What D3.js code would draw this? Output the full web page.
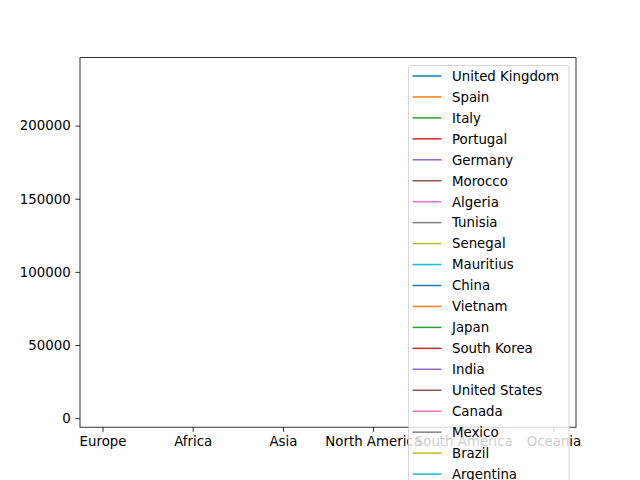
<!DOCTYPE html>
<html>
<head>
<meta charset="utf-8">
<script src="https://cdn.jsdelivr.net/npm/d3@7/dist/d3.min.js"></script>
<style>
  html, body { margin: 0; padding: 0; background: #fff; overflow: hidden; }
  svg { display: block; font-family: "DejaVu Sans", sans-serif; }
</style>
</head>
<body>
<svg id="chart" width="640" height="480"></svg>
<script>
// continents on the x axis
const continents = ["Europe", "Africa", "Asia", "North America", "South America", "Oceania"];
// one series per country, each with a single value at its continent
const countries = ["United Kingdom", "Spain", "Italy", "Portugal", "Germany",
    "Morocco", "Algeria", "Tunisia", "Senegal", "Mauritius",
    "China", "Vietnam", "Japan", "South Korea", "India",
    "United States", "Canada", "Mexico", "Brazil", "Argentina"];
const countryContinent = ["Europe", "Europe", "Europe", "Europe", "Europe",
    "Africa", "Africa", "Africa", "Africa", "Africa",
    "Asia", "Asia", "Asia", "Asia", "Asia",
    "North America", "North America", "North America", "South America", "South America"];
const countryValues = [67000, 47000, 59000, 10300, 83000,
    37000, 44000, 11800, 16900, 5300,
    141000, 97000, 126000, 51700, 140000,
    235000, 38000, 128000, 213000, 45000];
const yTicks = [0, 50000, 100000, 150000, 200000];

const palette = ["#1f77b4", "#ff7f0e", "#2ca02c", "#d62728", "#9467bd",
    "#8c564b", "#e377c2", "#7f7f7f", "#bcbd22", "#17becf"];

const svg = d3.select("#chart");
const margin = { left: 80, right: 576, top: 57.6, bottom: 427.2 };

const x = d3.scalePoint()
    .domain(continents)
    .range([margin.left, margin.right])
    .padding(0.25);

const [lo, hi] = d3.extent(countryValues);
const pad = (hi - lo) * 0.05;
const y = d3.scaleLinear()
    .domain([lo - pad, hi + pad])
    .range([margin.bottom, margin.top]);

// series lines (single points, so nothing visible)
const series = countries.map((name, i) => ({
    name,
    color: palette[i % palette.length],
    points: [{ c: countryContinent[i], v: countryValues[i] }]
}));

const line = d3.line().x(d => x(d.c)).y(d => y(d.v));

svg.append("g")
    .selectAll("path")
    .data(series)
    .join("path")
    .attr("d", d => line(d.points))
    .attr("fill", "none")
    .attr("stroke", d => d.color)
    .attr("stroke-width", 1.5)
    .attr("stroke-linecap", "butt");

// axes
const xAxis = svg.append("g")
    .attr("transform", `translate(0,${margin.bottom})`)
    .call(d3.axisBottom(x).tickSizeOuter(0).tickSize(4.67).tickPadding(4.67));
const yAxis = svg.append("g")
    .attr("transform", `translate(${margin.left},0)`)
    .call(d3.axisLeft(y).tickValues(yTicks).tickFormat(d3.format("d")).tickSizeOuter(0).tickSize(4.67).tickPadding(4.67));

[xAxis, yAxis].forEach(g => {
    g.select(".domain").remove();
    g.selectAll(".tick line").attr("stroke", "#000").attr("stroke-width", 0.8);
    g.selectAll(".tick text")
        .attr("fill", "#000")
        .attr("font-size", 13.33)
        .attr("font-family", "DejaVu Sans, sans-serif");
});

svg.append("rect")
    .attr("x", margin.left)
    .attr("y", margin.top)
    .attr("width", margin.right - margin.left)
    .attr("height", margin.bottom - margin.top)
    .attr("fill", "none")
    .attr("stroke", "#000")
    .attr("stroke-width", 0.8);

// legend
const rowH = 20.95;
const legend = svg.append("g").attr("transform", "translate(408.5,65.5)");
legend.append("rect")
    .attr("width", 160.5)
    .attr("height", 10 + series.length * rowH)
    .attr("rx", 2.5)
    .attr("fill", "#fff")
    .attr("fill-opacity", 0.8)
    .attr("stroke", "#cccccc")
    .attr("stroke-width", 0.8);

const rows = legend.selectAll("g.row")
    .data(series)
    .join("g")
    .attr("class", "row")
    .attr("transform", (d, i) => `translate(0,${10.5 + i * rowH})`);
rows.append("line")
    .attr("x1", 4).attr("x2", 33)
    .attr("stroke", d => d.color)
    .attr("stroke-width", 1.5);
rows.append("text")
    .attr("x", 43.5)
    .attr("dy", "0.36em")
    .attr("font-size", 13.33)
    .attr("fill", "#000")
    .text(d => d.name);
</script>
</body>
</html>
